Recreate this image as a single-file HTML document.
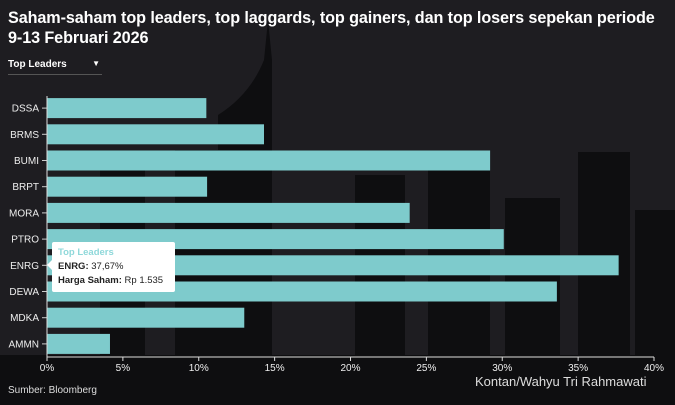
<!DOCTYPE html>
<html><head><meta charset="utf-8"><style>
body{margin:0;width:675px;height:405px;overflow:hidden;background:#1e1d21;font-family:"Liberation Sans",sans-serif}
#wrap{position:relative;width:675px;height:405px}
.t{position:absolute;color:#fff}
</style></head><body>
<div id="wrap">
<svg id="bg" width="675" height="405" style="position:absolute;left:0;top:0">
<rect x="0" y="0" width="675" height="405" fill="#1e1d21"/>
<g fill="#0e0e10">
<path d="M218 405 L218 115 Q250 95 264 60 L268 20 L272 60 L272 405 Z"/>
<rect x="100" y="165" width="45" height="240"/>
<rect x="175" y="150" width="45" height="255"/>
<rect x="355" y="175" width="50" height="230"/>
<rect x="428" y="170" width="62" height="235"/>
<rect x="505" y="198" width="55" height="207"/>
<rect x="578" y="152" width="52" height="253"/>
<rect x="635" y="210" width="40" height="195"/>
<rect x="0" y="355" width="675" height="50"/>
</g>
</svg>
<div class="t" style="left:8px;top:8px;font-size:16.2px;font-weight:bold;line-height:20px;width:665px;letter-spacing:-0.1px">Saham-saham top leaders, top laggards, top gainers, dan top losers sepekan periode<br>9-13 Februari 2026</div>
<div class="t" style="left:8px;top:59px;width:94px;height:15px;border-bottom:1px solid #555;font-size:10px;font-weight:bold">Top Leaders<span style="position:absolute;right:2px;top:0;font-size:8px">▼</span></div>
<svg id="chart" width="675" height="405" style="position:absolute;left:0;top:0"></svg>
<div id="tip" style="position:absolute;left:52px;top:242px;width:123px;height:50px;background:#fff;border-radius:2px;font-size:9.5px;color:#222;padding:4px 6px;box-sizing:border-box;line-height:14px">
<div style="color:#8fd8da;font-weight:bold">Top Leaders</div>
<div><b>ENRG:</b> 37,67%</div>
<div><b>Harga Saham:</b> Rp 1.535</div>
<div style="position:absolute;left:-5px;top:18px;width:0;height:0;border-top:5px solid transparent;border-bottom:5px solid transparent;border-right:5px solid #fff"></div>
</div>
<div class="t" style="left:8px;top:385px;font-size:10px;color:#ddd">Sumber: Bloomberg</div>
<div class="t" style="left:475px;top:374px;font-size:13px;color:#ddd">Kontan/Wahyu Tri Rahmawati</div>
</div>
<script>
const categories=["DSSA","BRMS","BUMI","BRPT","MORA","PTRO","ENRG","DEWA","MDKA","AMMN"];
const values=[10.5,14.3,29.2,10.55,23.9,30.1,37.67,33.6,13.0,4.15];
const ticks=[0,5,10,15,20,25,30,35,40];
const x0=47,x1=654,maxV=40,yTop=95,band=26.2,bh=20;
const xs=v=>x0+(v/maxV)*(x1-x0);
const ys=i=>yTop+i*band;
const svg=document.getElementById('chart');
const NS='http://www.w3.org/2000/svg';
function mk(t,a){const e=document.createElementNS(NS,t);for(const k in a)e.setAttribute(k,a[k]);svg.appendChild(e);return e;}
categories.forEach((c,i)=>{
 const cy=ys(i)+band/2;
 const r=mk('rect',{x:x0,y:cy-bh/2,width:xs(values[i])-x0,height:bh,fill:'#7ecbcc'});
 
 
 mk('line',{x1:x0-5,x2:x0,y1:cy,y2:cy,stroke:'#ccc','stroke-width':1});
 const t=mk('text',{x:x0-8,y:cy+3.5,'text-anchor':'end','font-size':10,fill:'#eee','font-family':'Liberation Sans, sans-serif'});
 t.textContent=c;
 
 
});
const ax=mk('line',{x1:x0,x2:x1,y1:357,y2:357,stroke:'#ddd','stroke-width':1});


mk('line',{x1:x0,x2:x0,y1:96,y2:357,stroke:'#ddd','stroke-width':1});
ticks.forEach(v=>{
 mk('line',{x1:xs(v),x2:xs(v),y1:357,y2:361,stroke:'#ddd'});
 const t=mk('text',{x:xs(v),y:371,'text-anchor':'middle','font-size':10,fill:'#eee','font-family':'Liberation Sans, sans-serif'});
 t.textContent=v+'%';
 
 
});
</script>
</body></html>
